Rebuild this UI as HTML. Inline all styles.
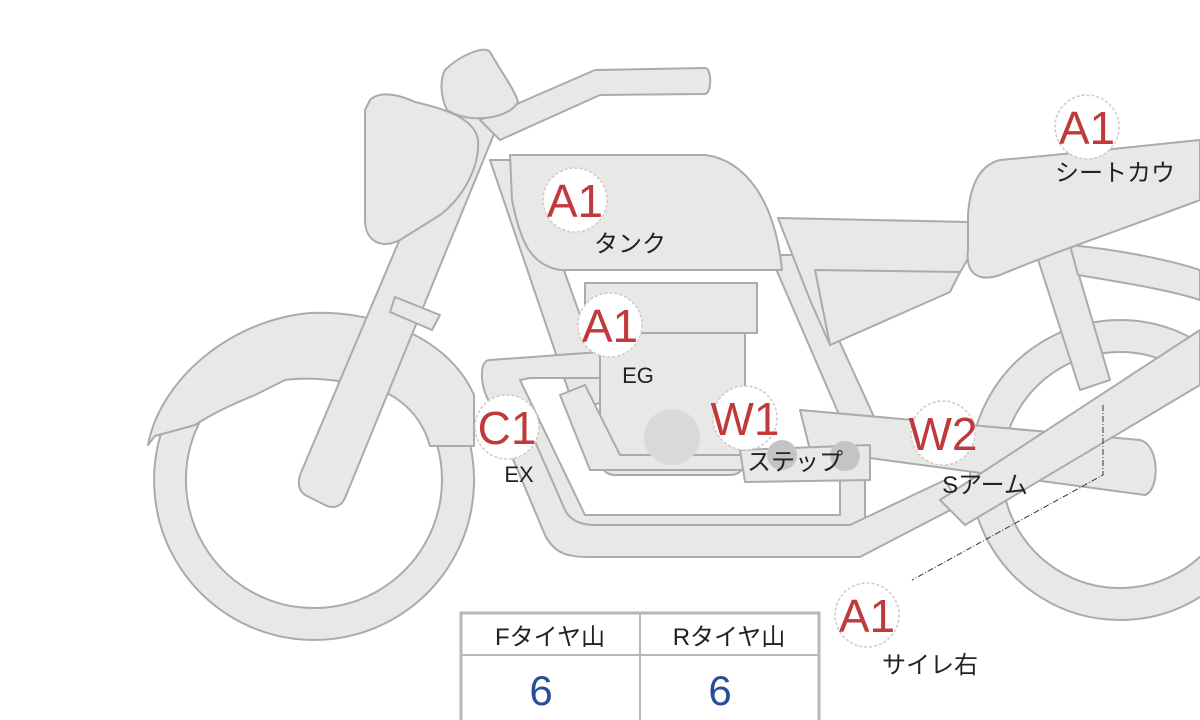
<!DOCTYPE html>
<html><head><meta charset="utf-8"><style>
html,body{margin:0;padding:0;background:#fff;}
svg{display:block;}
.p{fill:#e8e8e6;stroke:#a9abad;stroke-width:2;stroke-linejoin:round;}
.lab{font-family:"Liberation Sans","Noto Sans CJK JP",sans-serif;fill:#c0393b;font-size:46px;text-anchor:middle;}
.jp{font-family:"Liberation Sans","Noto Sans CJK JP",sans-serif;fill:#222;font-size:24px;text-anchor:middle;}
.c{fill:#fff;stroke:#d6c7c7;stroke-width:1.5;stroke-dasharray:3 2;}
</style></head><body>
<svg width="1200" height="720" viewBox="0 0 1200 720" xmlns="http://www.w3.org/2000/svg">
<!-- rear wheel -->
<path class="p" fill-rule="evenodd" d="M1120,320a150,150 0 1,0 0.1,0z M1120,352a118,118 0 1,1 -0.1,0z"/>
<!-- front wheel -->
<path class="p" fill-rule="evenodd" d="M314,320a160,160 0 1,0 0.1,0z M314,352a128,128 0 1,1 -0.1,0z"/>
<!-- fender -->
<path class="p" d="M148,445 C160,380 230,320 310,313 C380,310 450,340 474,395 L474,446 L430,446 C420,410 390,385 345,382 C320,378 300,378 285,380 L255,395 C230,405 210,415 195,425 L155,436 Z"/>
<!-- rear frame struts -->
<path class="p" d="M1035,250 L1070,245 L1110,380 L1080,390 Z"/>
<path class="p" d="M1070,245 C1120,250 1170,260 1200,270 L1200,300 C1170,290 1120,282 1078,275 Z"/>
<!-- downtube frame -->
<path class="p" d="M490,160 L525,160 L610,400 L575,410 Z"/>
<path class="p" d="M770,255 L800,255 L880,430 L850,440 Z"/>
<!-- side cover -->
<path class="p" d="M778,218 L970,222 L970,255 L950,290 L830,345 L810,300 Z"/>
<path class="p" d="M815,270 L960,272 L950,292 L830,345 Z"/>
<!-- swingarm -->
<path class="p" d="M800,410 L1140,440 C1160,445 1160,490 1145,495 L810,450 Z"/>
<!-- exhaust pipes -->
<path class="p" d="M490,360 C480,360 480,380 486,395 L540,520 C550,540 565,545 580,545 L850,545 C860,545 865,535 865,525 L865,470 L840,470 L840,515 L585,515 L520,380 L530,378 L600,378 L600,352 Z"/>
<path class="p" d="M505,440 L545,535 C555,555 570,557 590,557 L860,557 L960,505 L945,480 L850,525 L595,525 C580,525 570,520 565,510 L530,430 Z"/>
<!-- engine -->
<path class="p" d="M600,333 L745,333 L745,460 C745,470 738,475 730,475 L615,475 C606,475 600,468 600,460 Z"/>
<rect class="p" x="585" y="283" width="172" height="50"/>
<path class="p" d="M560,395 L590,470 L865,470 L860,455 L620,455 L585,385 Z"/>
<circle cx="672" cy="437" r="28" fill="#d9d9d9"/>
<!-- step -->
<path class="p" d="M740,450 L870,445 L870,480 L745,482 Z"/>
<circle cx="782" cy="455" r="15" fill="#c4c4c4"/>
<circle cx="845" cy="456" r="15" fill="#c4c4c4"/>
<!-- rear diagonal band -->
<path class="p" d="M940,500 L1200,330 L1200,385 L965,525 Z"/>
<!-- seat -->
<path class="p" d="M1000,160 C1060,155 1150,145 1200,140 L1200,200 C1120,230 1060,250 1000,275 C980,282 965,275 968,250 L968,215 C970,185 980,165 1000,160 Z"/>
<!-- tank -->
<path class="p" d="M510,155 L705,155 C745,160 775,200 782,270 L560,270 C530,265 520,240 512,200 Z"/>
<!-- fork -->
<path class="p" d="M465,85 L510,95 L345,498 C342,505 335,510 325,505 L305,495 C298,490 298,482 300,475 Z"/>
<path class="p" d="M395,297 L440,315 L432,330 L390,312 Z"/>
<!-- handlebar -->
<path class="p" d="M480,120 L595,70 L705,68 C712,68 712,93 705,94 L600,95 L500,140 Z"/>
<!-- headlight -->
<path class="p" d="M370,100 C380,90 400,95 415,102 C450,110 475,120 478,140 C480,170 460,200 440,215 L400,240 C380,250 365,240 365,220 L365,110 Z"/>
<path class="p" d="M445,70 C460,55 485,45 490,52 C500,70 515,90 518,102 C510,118 470,125 447,110 C440,95 440,80 445,70 Z"/>
<!-- callout line -->
<path d="M1103,405 L1103,475 L912,580" fill="none" stroke="#333" stroke-width="1" stroke-dasharray="6 2 1 2"/>
<!-- labels -->
<g>
<circle class="c" cx="575" cy="200" r="32"/><text class="lab" x="575" y="217">A1</text><text class="jp" x="630" y="252">タンク</text>
<circle class="c" cx="610" cy="325" r="32"/><text class="lab" x="610" y="342">A1</text><text class="jp" x="638" y="383" style="font-size:22px">EG</text>
<circle class="c" cx="507" cy="427" r="32"/><text class="lab" x="507" y="444">C1</text><text class="jp" x="519" y="482" style="font-size:22px">EX</text>
<circle class="c" cx="745" cy="418" r="32"/><text class="lab" x="745" y="435">W1</text><text class="jp" x="795" y="470">ステップ</text>
<circle class="c" cx="943" cy="433" r="32"/><text class="lab" x="943" y="450">W2</text><text class="jp" x="985" y="493">Sアーム</text>
<circle class="c" cx="1087" cy="127" r="32"/><text class="lab" x="1087" y="144">A1</text><text class="jp" x="1130" y="181" style="text-anchor:start" transform="translate(-75,0)">シートカウ</text>
<circle class="c" cx="867" cy="615" r="32"/><text class="lab" x="867" y="632">A1</text><text class="jp" x="930" y="673">サイレ右</text>
</g>
<!-- table -->
<g font-family="'Liberation Sans','Noto Sans CJK JP',sans-serif">
<rect x="461" y="613" width="358" height="110" fill="#fff" stroke="#b4b7bb" stroke-width="3"/>
<line x1="461" y1="655" x2="819" y2="655" stroke="#b4b7bb" stroke-width="2"/>
<line x1="640" y1="613" x2="640" y2="720" stroke="#b4b7bb" stroke-width="2"/>
<text x="550" y="645" font-size="24" fill="#222" text-anchor="middle">Fタイヤ山</text>
<text x="729" y="645" font-size="24" fill="#222" text-anchor="middle">Rタイヤ山</text>
<text x="541" y="705" font-size="42" fill="#2b4c97" text-anchor="middle">6</text>
<text x="720" y="705" font-size="42" fill="#2b4c97" text-anchor="middle">6</text>
</g>
</svg>
</body></html>
